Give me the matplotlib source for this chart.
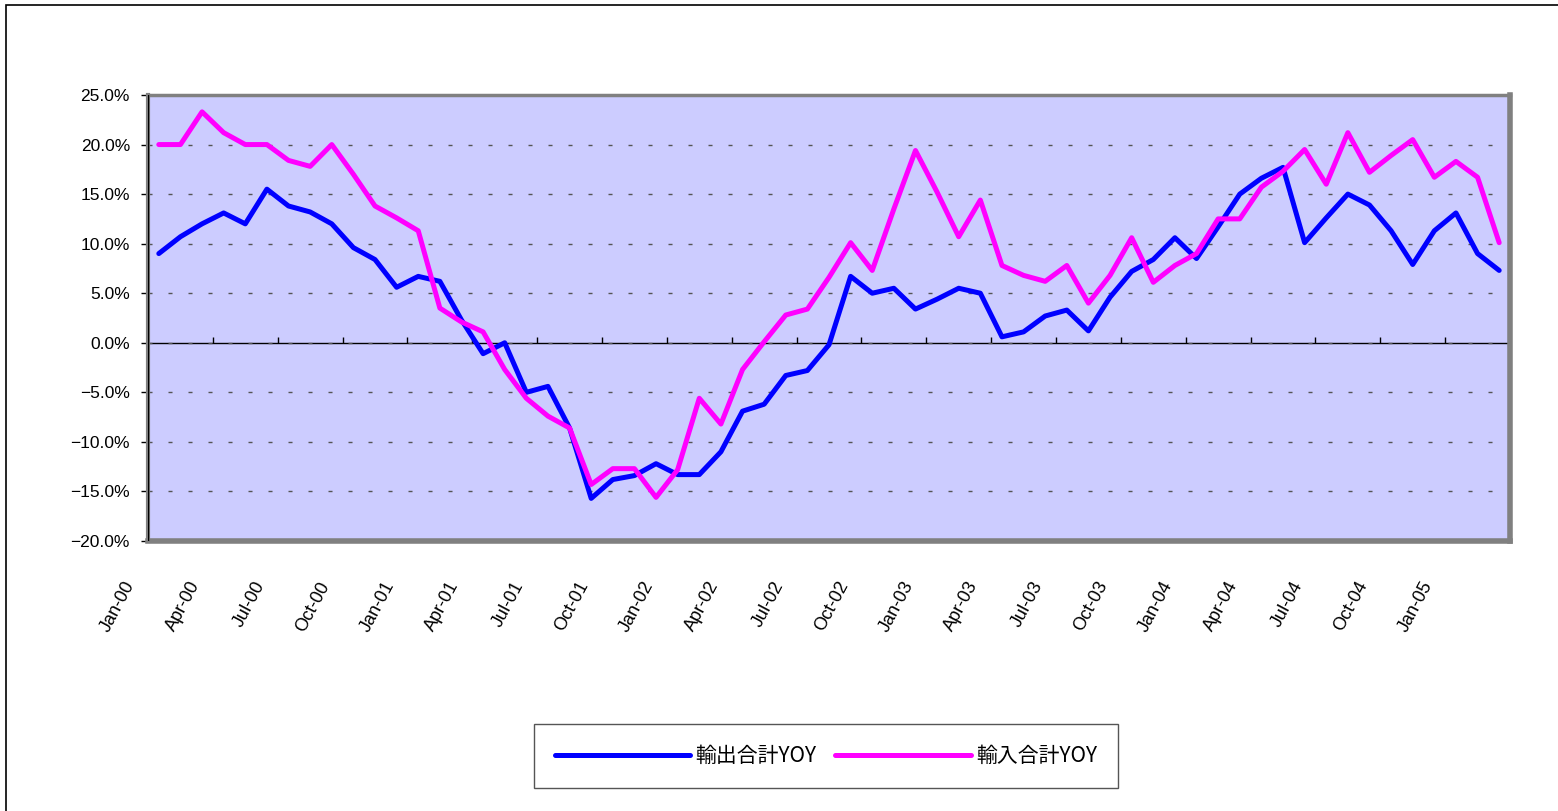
import numpy as np
import matplotlib
matplotlib.use("Agg")
import matplotlib.pyplot as plt
from matplotlib.ticker import FuncFormatter
from matplotlib.patches import Rectangle
import matplotlib.transforms as mtransforms

# ---------------- data (percent, monthly Jan-00 .. Mar-05) ----------------
series_names = ['輸出合計YOY', '輸入合計YOY']

export_yoy = [9.0, 10.7, 12.0, 13.1, 12.0, 15.5, 13.8, 13.2, 12.0, 9.6,
              8.4, 5.6, 6.7, 6.2, 2.3, -1.1, 0.0, -5.0, -4.4, -8.6,
              -15.7, -13.8, -13.4, -12.2, -13.3, -13.3, -11.0, -6.9, -6.2, -3.3,
              -2.8, -0.2, 6.7, 5.0, 5.5, 3.4, 4.4, 5.5, 5.0, 0.6,
              1.1, 2.7, 3.3, 1.2, 4.6, 7.2, 8.4, 10.6, 8.5, 11.7,
              15.0, 16.6, 17.7, 10.1, 12.6, 15.0, 13.9, 11.3, 7.9, 11.3,
              13.1, 9.0, 7.3]

import_yoy = [20.0, 20.0, 23.3, 21.2, 20.0, 20.0, 18.4, 17.8, 20.0, 17.0,
              13.8, 12.6, 11.3, 3.5, 2.1, 1.1, -2.7, -5.6, -7.4, -8.6,
              -14.3, -12.7, -12.7, -15.6, -12.8, -5.6, -8.2, -2.7, 0.1, 2.8,
              3.4, 6.6, 10.1, 7.3, 13.5, 19.4, 15.2, 10.7, 14.4, 7.8,
              6.8, 6.2, 7.8, 4.0, 6.8, 10.6, 6.1, 7.8, 9.0, 12.5,
              12.5, 15.7, 17.3, 19.5, 16.0, 21.2, 17.2, 18.9, 20.5, 16.7,
              18.3, 16.7, 10.1]

tick_labels = ['Jan-00', 'Apr-00', 'Jul-00', 'Oct-00',
               'Jan-01', 'Apr-01', 'Jul-01', 'Oct-01',
               'Jan-02', 'Apr-02', 'Jul-02', 'Oct-02',
               'Jan-03', 'Apr-03', 'Jul-03', 'Oct-03',
               'Jan-04', 'Apr-04', 'Jul-04', 'Oct-04',
               'Jan-05']

y_ticks = [-20, -15, -10, -5, 0, 5, 10, 15, 20, 25]

# ---------------- figure ----------------
plt.rcParams['font.family'] = ['Liberation Sans', 'Noto Sans CJK JP', 'DejaVu Sans']

W, H = 1558, 811
fig = plt.figure(figsize=(W / 100, H / 100), dpi=100)
fig.patch.set_facecolor('white')

ax = fig.add_axes([148 / W, 1 - 541 / H, 1362 / W, 446 / H])
ax.set_facecolor('#CCCCFF')

n = len(export_yoy)
x = np.arange(n)
ax.plot(x, export_yoy, color='#0000FF', lw=3.6, solid_joinstyle='round',
        solid_capstyle='round', label=series_names[0], zorder=3)
ax.plot(x, import_yoy, color='#FF00FF', lw=3.6, solid_joinstyle='round',
        solid_capstyle='round', label=series_names[1], zorder=3)

ax.set_xlim(-0.5, n - 0.5)
ax.set_ylim(min(y_ticks), max(y_ticks))

# y axis
ax.set_yticks(y_ticks)
ax.yaxis.set_major_formatter(FuncFormatter(lambda v, p: f'{v:.1f}%'.replace('-', '\u2212')))
ax.tick_params(axis='y', direction='out', length=5, width=1, color='black',
               labelsize=12.5, pad=8, labelcolor='black')
ax.grid(axis='y', color='#555555', lw=1.0, linestyle=(0, (2.9, 11.5)), zorder=1)
ax.set_axisbelow(True)

# x labels at bottom of plot area
tick_pos = np.arange(-0.5, -0.5 + 3 * len(tick_labels), 3)
ax.set_xticks(tick_pos)
ax.set_xticklabels(tick_labels, rotation=62, ha='right', va='center',
                   rotation_mode='anchor', fontsize=13)
ax.tick_params(axis='x', length=0, pad=30)
offset = mtransforms.ScaledTranslation(-17 / 100, 0, fig.dpi_scale_trans)
for lab in ax.get_xticklabels():
    lab.set_transform(lab.get_transform() + offset)

# category axis line at y = 0 with inward tick marks
frac0 = (0 - min(y_ticks)) / (max(y_ticks) - min(y_ticks))
sec = ax.secondary_xaxis(frac0)
sec.set_xticks(np.arange(2.5, n, 3))
sec.set_xticklabels([])
sec.tick_params(direction='in', length=4.5, width=1, color='black')
sec.spines['bottom'].set_color('black')
sec.spines['bottom'].set_linewidth(1.0)

# plot-area frame (gray, Excel-like)
for side, lw in [('top', 2.5), ('left', 3.0), ('right', 4.0), ('bottom', 4.0)]:
    ax.spines[side].set_color('#808080')
    ax.spines[side].set_linewidth(lw)
ax.axvline(-0.5, color='black', lw=1.0, zorder=4)

# legend
leg = ax.legend(loc='center', bbox_to_anchor=(826 / W, 1 - 756 / H),
                bbox_transform=fig.transFigure, ncol=2, frameon=True,
                fancybox=False, edgecolor='#555555', framealpha=1,
                prop={'family': ['Noto Sans CJK JP', 'DejaVu Sans'], 'size': 15},
                handlelength=6.5, handletextpad=0.25, columnspacing=0.9,
                borderpad=1.0, borderaxespad=0)
leg.get_frame().set_linewidth(1.0)

# outer chart border (left and top visible)
fig.add_artist(Rectangle((6 / W, -0.2), 1.5, 1.2 - 5 / H, transform=fig.transFigure,
                         fill=False, edgecolor='black', lw=1.2, clip_on=False))

fig.savefig('out.png', dpi=100)
